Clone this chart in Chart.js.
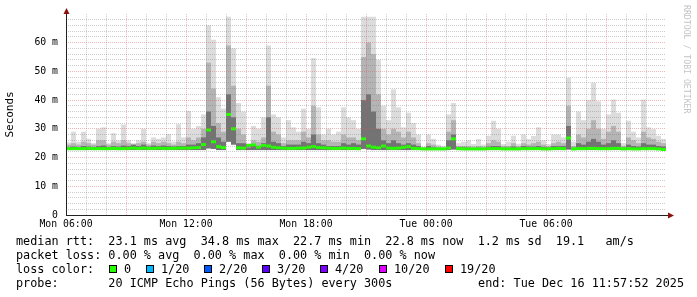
<!DOCTYPE html>
<html>
<head>
<meta charset="utf-8">
<script src="https://cdn.jsdelivr.net/npm/chart.js@4.4.1/dist/chart.umd.min.js"></script>
<style>
  body { margin: 0; background: #fff; }
  #wrap { position: relative; width: 697px; height: 297px; overflow: hidden; background: #fff; }
  #chart { position: absolute; left: 0; top: 0; }
  .row, .lbl { position: absolute; font-family: 'DejaVu Sans Mono', monospace; font-size: 11.8px; line-height: 14px; white-space: pre; color: #000; }
  .row { left: 16px; }
  .box { position: absolute; width: 6px; height: 6px; border: 1px solid #000; top: 265px; }
</style>
</head>
<body>
<div id="wrap">
  <canvas id="chart" width="697" height="297"></canvas>
  <div class="row" style="top:234px">median rtt:  23.1 ms avg  34.8 ms max  22.7 ms min  22.8 ms now  1.2 ms sd  19.1   am/s</div>
  <div class="row" style="top:248px">packet loss: 0.00 % avg  0.00 % max  0.00 % min  0.00 % now</div>
  <div class="row" style="top:262px">loss color:</div>
  <div class="row" style="top:276px">probe:       20 ICMP Echo Pings (56 Bytes) every 300s</div>
  <div class="lbl" style="top:276px; right:13px">end: Tue Dec 16 11:57:52 2025</div>
</div>
<script>
// 15 minute bins, Mon 06:00 .. Tue 12:00 (values in ms)
const binHours = 0.25;
const xTickLabels = ['Mon 06:00', 'Mon 12:00', 'Mon 18:00', 'Tue 00:00', 'Tue 06:00'];

const rttMin = [
  22.6, 22.6, 22.6, 22.6, 22.6, 22.6, 22.6, 22.6, 22.6, 22.6, 22.6, 22.6, 22.6, 22.6, 22.6, 22.6, 22.6, 22.6, 22.6, 22.6,
  22.6, 22.6, 22.6, 22.6, 22.6, 22.6, 22.6, 22.6, 23.2, 23.0, 22.6, 22.6, 25.5, 24.5, 22.6, 22.6, 22.6, 22.6, 22.6, 22.6,
  22.6, 22.6, 22.6, 22.6, 22.6, 22.6, 22.6, 22.6, 22.6, 22.6, 22.6, 22.6, 22.6, 22.6, 22.6, 22.6, 22.6, 22.6, 22.6, 23.0,
  22.8, 22.6, 22.6, 22.6, 22.6, 22.6, 22.6, 22.6, 22.6, 22.6, 22.6, 22.6, 22.6, 22.6, 22.6, 22.6, 22.6, 22.8, 22.6, 22.6,
  22.6, 22.6, 22.6, 22.6, 22.6, 22.6, 22.6, 22.6, 22.6, 22.6, 22.6, 22.6, 22.6, 22.6, 22.6, 22.6, 22.6, 22.6, 22.6, 22.6,
  22.8, 22.6, 22.6, 22.6, 22.6, 22.6, 22.6, 22.6, 22.6, 22.6, 22.6, 22.6, 22.6, 22.6, 22.6, 22.6, 22.6, 22.6, 22.6, 22.5
];
const rttMax = [
  25.3, 29, 25.5, 29, 26.5, 25, 30, 30.5, 25, 28.5, 26, 31.5, 26, 25, 26, 30, 25, 27, 26.5, 27,
  28.2, 25.5, 31.6, 27, 36.2, 30, 31, 35, 66, 61, 41, 37, 69, 58, 39, 36, 25, 31, 30, 34,
  59, 35, 34, 27, 33, 30.5, 29, 37, 30, 54.6, 37.5, 28, 30, 28, 29, 37.5, 34, 33, 30, 69,
  69, 69, 54, 38, 33, 43.7, 37.5, 30.5, 35.6, 32, 28, 23.8, 28, 26.5, 24.5, 24, 35, 39, 25, 25.5,
  26, 24.7, 26.4, 24.5, 27.6, 32.8, 30, 24.7, 25.5, 27.6, 24.8, 28, 26.4, 27.5, 30.5, 26, 24.7, 28, 28, 27,
  47.7, 25.5, 36, 33, 40, 46, 39.6, 30, 35, 40.2, 35.6, 25, 32.8, 29, 27, 40.2, 30.5, 29.9, 27.6, 26.5
];
const rttUpper = [
  24.5, 25, 24.5, 25.5, 25, 24.5, 26, 26, 24.5, 25.5, 25, 26, 25, 24.5, 25, 25.5, 24.5, 25.5, 25, 25.5,
  25, 24.5, 25.5, 25, 27, 26, 27, 30, 53, 44, 32, 29, 59, 45, 30, 28, 24, 26, 25.5, 27,
  45, 29, 28, 25, 26, 26, 26, 29, 27, 38, 28, 26, 26, 25.5, 25.5, 28, 27, 27, 26, 55,
  60, 56, 42, 30, 28, 30, 29, 27, 29, 27, 25, 23.5, 25, 24.5, 23.8, 23.5, 29, 33, 24, 24,
  24, 23.8, 24, 23.8, 25, 26, 25.5, 24, 24, 25, 24, 25, 24.5, 25, 25.5, 24.5, 24, 25, 25.5, 25,
  38, 24, 28, 27, 30, 33, 30, 26.5, 29, 31, 29, 24, 27, 26, 25, 29, 27, 26.5, 25.5, 25
];
const rttDark = [
  23.6, 23.8, 23.6, 24, 23.8, 23.6, 24, 24.2, 23.6, 24, 23.8, 24.2, 24, 24.5, 24, 24.5, 23.8, 24.2, 24, 24.2,
  24, 23.8, 24, 24, 24.5, 24.5, 25, 27, 36, 31, 27, 25.5, 42, 34, 25, 25, 23.5, 24, 24, 25,
  34, 25.5, 25, 24, 24.5, 24.5, 24.5, 25.5, 25, 28, 25, 24.5, 24, 24, 24, 25, 24.5, 25, 24.5, 40,
  42, 36, 30, 26, 25, 26, 25, 24.5, 25, 24.5, 24, 23.2, 24, 23.5, 23.3, 23.2, 26, 28, 23.5, 23.5,
  23.4, 23.3, 23.4, 23.3, 23.8, 24, 24, 23.4, 23.4, 23.8, 23.4, 24, 23.8, 23.8, 24, 23.6, 23.4, 24, 24, 24,
  31, 23.4, 25, 24.5, 25.5, 26.5, 25.5, 24.5, 25, 26, 25, 23.4, 24.5, 24, 23.8, 25, 24.5, 24.5, 24, 23.8
];
const rttMedian = [
  23.1, 23.1, 23.1, 23.1, 23.2, 23.1, 23.1, 23.1, 23.1, 23.2, 23.1, 23.1, 23.2, 23.3, 23.2, 23.3, 23.2, 23.2, 23.3, 23.2,
  23.2, 23.2, 23.3, 23.3, 23.3, 23.4, 23.5, 24.5, 29.6, 25.5, 23.8, 23.5, 35, 30, 23.4, 23.3, 24.2, 24.4, 23.6, 24.2,
  24, 23.6, 23.4, 23.3, 23.2, 23.2, 23.3, 23.3, 23.6, 23.8, 23.5, 23.4, 23.3, 23.2, 23.2, 23.3, 23.2, 23.2, 23.1, 26.5,
  24, 23.6, 23.4, 24, 23.3, 23.2, 23.3, 23.6, 23.8, 23.2, 23.1, 23.0, 23.0, 23.0, 23.0, 23.0, 23.3, 26.5, 23.1, 23.0,
  23.0, 23.0, 23.0, 23.0, 23.1, 23.1, 23.1, 23.0, 23.0, 23.0, 23.0, 23.1, 23.1, 23.1, 23.1, 23.0, 23.0, 23.1, 23.2, 23.1,
  26.8, 23.0, 23.1, 23.1, 23.2, 23.2, 23.1, 23.1, 23.1, 23.2, 23.2, 23.0, 23.1, 23.0, 23.0, 23.1, 23.1, 23.1, 23.0, 22.8
];

const lossLabels = ['0', '1/20', '2/20', '3/20', '4/20', '10/20', '19/20'];
const lossColors = ['#26ff00', '#00b8ff', '#0059ff', '#5e00ff', '#7e00ff', '#dd00ff', '#ff0000'];
const lossBoxX = [109, 146, 204, 262, 320, 379, 445];

// loss colour legend
const wrap = document.getElementById('wrap');
lossLabels.forEach((label, i) => {
    const box = document.createElement('div');
    box.className = 'box';
    box.style.left = lossBoxX[i] + 'px';
    box.style.background = lossColors[i];
    wrap.appendChild(box);
    const txt = document.createElement('div');
    txt.className = 'lbl';
    txt.style.left = (lossBoxX[i] + 15) + 'px';
    txt.style.top = '262px';
    txt.textContent = label;
    wrap.appendChild(txt);
});

// smoke band from low to high per bin
function band(lo, hi) {
    return lo.map((v, i) => ({ x: i * binHours + binHours / 2, y: [v, hi[i]] }));
}
// median drawn as a short horizontal dash per bin (about 3px thick)
const lineHalf = 0.52;
const medianDashes = rttMedian.map((v, i) => ({ x: i * binHours + binHours / 2, y: [v - lineHalf, v + lineHalf] }));

const minorGrid = 'rgba(120,120,120,0.38)';
const majorGrid = 'rgba(225,80,80,0.42)';
const clear = 'rgba(0,0,0,0)';
const axisFont = { family: 'DejaVu Sans Mono', size: 9.8 };

const rrdDecor = {
    id: 'rrdDecor',
    afterDraw(chart) {
        const { ctx, chartArea: a } = chart;
        ctx.save();
        ctx.strokeStyle = '#222';
        ctx.lineWidth = 1;
        ctx.beginPath();
        ctx.moveTo(a.left + 0.5, a.bottom + 0.5);
        ctx.lineTo(a.left + 0.5, a.top - 3);
        ctx.moveTo(a.left, a.bottom + 0.5);
        ctx.lineTo(a.right + 5, a.bottom + 0.5);
        ctx.stroke();
        // arrows
        ctx.fillStyle = '#8b1010';
        ctx.beginPath();
        ctx.moveTo(a.left + 0.5, a.top - 6);
        ctx.lineTo(a.left - 2.5, a.top);
        ctx.lineTo(a.left + 3.5, a.top);
        ctx.closePath();
        ctx.fill();
        ctx.beginPath();
        ctx.moveTo(a.right + 8, a.bottom + 0.5);
        ctx.lineTo(a.right + 2, a.bottom - 2.5);
        ctx.lineTo(a.right + 2, a.bottom + 3.5);
        ctx.closePath();
        ctx.fill();
        // watermark
        ctx.translate(686.5, 5);
        ctx.rotate(Math.PI / 2);
        ctx.font = '8.2px "DejaVu Sans Mono"';
        ctx.fillStyle = '#c4c4c4';
        ctx.textBaseline = 'middle';
        ctx.fillText('RRDTOOL / TOBI OETIKER', 0, 0);
        ctx.restore();
    }
};

new Chart(document.getElementById('chart'), {
    type: 'bar',
    data: {
        datasets: [
            { data: medianDashes, backgroundColor: lossColors[0], order: 0 },
            { data: band(rttMin, rttDark), backgroundColor: '#737373', order: 1 },
            { data: band(rttMin, rttUpper), backgroundColor: '#b4b4b4', order: 2 },
            { data: band(rttMin, rttMax), backgroundColor: '#dcdcdc', order: 3 }
        ]
    },
    options: {
        responsive: false,
        animation: false,
        devicePixelRatio: 1,
        layout: { padding: { left: 0, right: 31, top: 12, bottom: 62 } },
        datasets: {
            bar: {
                grouped: false,
                barPercentage: 1,
                categoryPercentage: 1,
                borderWidth: 0,
                inflateAmount: 0
            }
        },
        plugins: {
            legend: { display: false },
            tooltip: { enabled: false }
        },
        scales: {
            x: {
                type: 'linear',
                min: 0,
                max: 30,
                offset: false,
                ticks: {
                    stepSize: 1,
                    maxTicksLimit: 100,
                    autoSkip: false,
                    maxRotation: 0,
                    padding: 4,
                    color: '#000',
                    font: axisFont,
                    callback: v => (v % 6 === 0 && v < 30) ? xTickLabels[v / 6] : ''
                },
                grid: {
                    offset: false,
                    drawTicks: false,
                    z: 1,
                    color: c => {
                        const v = c.tick.value;
                        if (v === 0 || v === 30) return clear;
                        return v % 3 === 0 ? majorGrid : minorGrid;
                    }
                },
                border: { display: false, dash: [1, 1] },
                afterFit: s => { s.height = 20; }
            },
            y: {
                min: 0,
                max: 70,
                ticks: {
                    stepSize: 2,
                    maxTicksLimit: 100,
                    autoSkip: false,
                    padding: 8,
                    color: '#000',
                    font: axisFont,
                    callback: v => (v % 10 === 0 && v < 70) ? (v === 0 ? '0' : v + ' m') : ''
                },
                grid: {
                    drawTicks: false,
                    z: 1,
                    color: c => {
                        const v = c.tick.value;
                        if (v === 0 || v === 70) return clear;
                        return v % 10 === 0 ? majorGrid : minorGrid;
                    }
                },
                border: { display: false, dash: [1, 1] },
                title: {
                    display: true,
                    text: 'Seconds',
                    color: '#000',
                    font: { family: 'DejaVu Sans Mono', size: 11 },
                    padding: { top: 4, bottom: 0 }
                },
                afterFit: s => { s.width = 66; }
            }
        }
    },
    plugins: [rrdDecor]
});
</script>
</body>
</html>
